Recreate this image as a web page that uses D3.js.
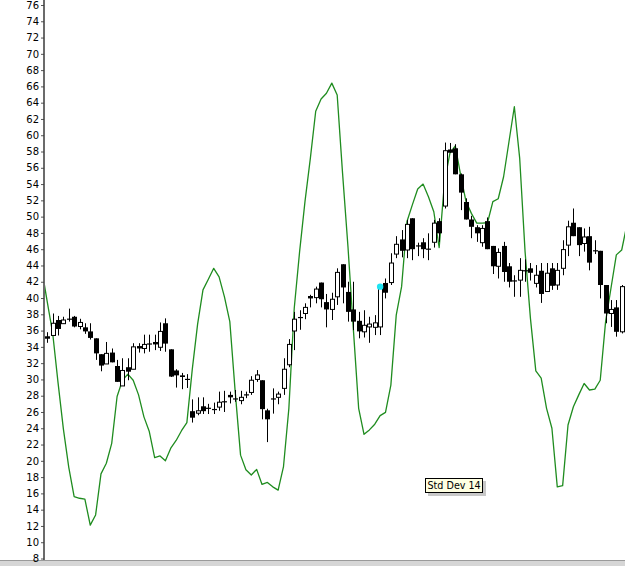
<!DOCTYPE html>
<html>
<head>
<meta charset="utf-8">
<script src="https://cdn.jsdelivr.net/npm/d3@7"></script>
<style>
  html, body { margin: 0; padding: 0; background: #fff; }
  svg { display: block; }
</style>
</head>
<body>
<svg id="chart" width="625" height="566"></svg>
<script>
// ---- data ----
const opens = [35.3,35.4,37.3,36.85,37.4,37.7,36.5,36.4,35.9,35.05,33.1,31.9,33.3,31.65,29.2,31.5,31.25,34.1,33.8,34.35,34.6,33.95,36.9,33.7,31.1,30.5,30.0,
  26.1,25.85,26.7,26.45,26.3,26.6,27.25,28.1,27.6,27.4,28.1,28.4,30.0,29.9,26.2,27.6,27.8,28.9,31.8,
  35.95,37.6,38.1,40.25,40.05,41.9,39.5,38.6,40.15,44.15,40.75,38.6,37.2,35.85,36.45,36.4,36.45,41.85,41.9,
  45.4,47.2,45.9,49.8,46.4,46.85,46.0,46.85,49.45,51.3,58.25,58.4,55.2,51.8,49.65,48.7,46.8,49.45,
  46.4,43.9,46.4,43.9,42.1,42.2,43.35,43.65,41.8,43.35,40.8,43.65,41.6,43.65,46.5,49.25,48.7,46.7,47.6,45.8,45.8,41.6,38.1,38.85,35.85];
const highs = [35.8,38.1,37.8,37.7,38.7,37.8,37.45,36.9,36.9,35.05,33.1,34.6,33.8,32.4,32.6,32.6,34.45,34.45,35.5,35.5,35.5,37.0,37.5,33.7,31.25,30.8,30.65,
  27.55,27.8,27.8,27.0,27.15,28.5,28.6,28.5,28.7,28.6,28.5,30.4,31.15,29.9,26.4,28.9,28.5,32.6,34.95,
  38.3,38.5,39.35,40.4,41.4,41.9,40.5,40.65,43.65,44.15,42.0,42.0,38.3,38.5,37.7,37.9,41.4,42.4,45.5,
  47.6,48.35,49.6,49.8,46.8,47.35,47.95,49.6,49.8,59.1,59.05,58.9,55.3,52.25,50.1,48.95,48.95,49.9,
  46.4,46.1,46.9,44.3,42.8,44.9,44.75,44.3,44.05,44.3,44.3,44.3,44.3,47.1,49.5,51.0,48.7,48.55,48.75,47.1,45.8,41.6,39.75,39.75,41.6];
const lows = [34.5,35.4,35.4,36.85,37.1,36.4,36.15,35.6,34.9,32.4,31.0,31.9,32.1,29.7,29.2,29.9,31.25,33.3,33.2,33.4,33.6,33.5,33.4,30.3,29.0,28.8,28.95,
  24.7,25.6,25.75,25.75,25.75,26.15,26.0,27.05,27.25,26.95,27.7,28.1,29.7,25.1,22.3,25.8,26.95,28.1,31.5,
  33.6,36.1,37.4,38.85,39.35,38.85,36.4,37.3,39.15,39.35,37.1,36.05,35.05,35.15,34.5,35.45,35.45,39.95,41.6,
  44.9,45.0,44.9,44.65,45.15,44.9,44.65,46.2,46.9,51.0,57.85,55.2,50.8,49.65,47.35,46.9,46.3,46.0,
  42.95,42.4,42.0,41.3,40.15,40.15,42.0,42.15,41.3,39.4,40.8,41.0,41.0,42.8,45.15,47.6,45.15,45.7,43.4,45.4,39.95,36.9,36.45,35.25,35.65];
const closes = [35.0,36.9,36.2,37.3,37.4,36.5,37.0,35.9,35.1,33.2,31.7,33.2,32.1,29.7,31.1,30.95,34.0,33.8,34.3,34.35,34.3,35.9,34.4,30.35,30.5,30.3,30.0,
  25.3,26.15,26.1,26.45,26.3,27.2,27.25,27.8,27.6,27.8,28.1,29.9,30.55,26.35,25.1,27.6,28.2,31.25,34.3,
  37.4,37.6,38.85,39.95,41.1,39.85,38.6,39.85,43.15,41.3,38.3,37.1,35.9,36.65,36.8,36.95,41.4,40.65,44.3,
  46.6,45.8,49.05,46.0,46.4,46.0,46.0,49.2,47.95,58.1,57.85,55.2,52.95,49.65,48.75,47.95,48.55,46.0,
  43.9,45.6,43.2,42.0,42.1,43.4,43.35,43.1,42.8,40.5,43.05,41.5,43.4,45.95,48.75,47.6,46.5,47.5,44.35,45.8,41.6,38.1,38.6,35.85,41.4];
// Std Dev 14 line, one value per bar, starting one bar before the first visible bar
const stdDevFirstIndex = -1;
const stdDev = [43.4,39.5,35.7,29.6,23.9,19.2,15.6,15.4,15.3,12.1,13.35,18.4,19.7,22.15,27.9,29.9,30.65,29.9,28.1,25.4,23.6,20.4,20.6,20.0,21.55,22.5,23.7,24.7,
  31.2,36.8,41.0,42.3,43.65,42.6,40.15,37.1,28.5,20.7,18.9,18.25,18.95,17.1,17.35,16.8,16.4,19.3,26.45,
  38.75,45.7,51.85,57.15,62.95,64.45,65.15,66.4,64.95,55.35,46.4,36.3,26.45,23.25,23.8,24.5,25.55,25.95,29.3,
  37.9,41.4,49.4,51.45,53.4,54.0,52.45,50.6,46.2,54.3,57.8,58.7,55.1,51.85,50.4,49.2,49.2,49.25,
  51.85,52.2,54.9,59.2,63.5,57.15,45.7,37.5,31.05,30.15,26.45,24.0,16.8,16.95,24.4,26.65,28.1,29.5,28.7,28.8,29.9,37.1,41.2,45.3,45.9,49.1];
const yTicks = d3.range(8, 77, 2);
const markerIndex = 62;      // cyan marker
const markerValue = 41.4;
const studyLabel = "Std Dev 14";

// ---- layout ----
const svg = d3.select("#chart");
const W = 625, H = 566;
const axisX = 44;
const x = d3.scaleLinear().domain([0, opens.length - 1]).range([47.3, 621.7]);
const y = d3.scaleLinear().domain([8, 76]).range([558.5, 5]);

svg.append("defs").append("clipPath").attr("id", "plotclip")
  .append("rect").attr("x", axisX + 1).attr("y", 0).attr("width", W - axisX - 1).attr("height", 560);

// bottom band
svg.append("rect").attr("x", 0).attr("y", 561).attr("width", W).attr("height", 5).attr("fill", "#d6d6d6");
svg.append("line").attr("x1", 0).attr("x2", W).attr("y1", 560.5).attr("y2", 560.5).attr("stroke", "#9a9a9a").attr("stroke-width", 1);

const plot = svg.append("g").attr("clip-path", "url(#plotclip)");

// std dev line
const line = d3.line()
  .x((d, i) => x(i + stdDevFirstIndex))
  .y(d => y(d));
plot.append("path").datum(stdDev)
  .attr("d", line)
  .attr("fill", "none")
  .attr("stroke", "#1f8c1f")
  .attr("stroke-width", 1.3)
  .attr("stroke-linejoin", "round");

// candles
const bars = d3.range(opens.length).map(i => ({ i, o: opens[i], h: highs[i], l: lows[i], c: closes[i] }));
const g = plot.append("g").selectAll("g").data(bars).join("g");
g.append("line")
  .attr("x1", d => Math.round(x(d.i)) + 0.5).attr("x2", d => Math.round(x(d.i)) + 0.5)
  .attr("y1", d => y(d.h)).attr("y2", d => y(d.l))
  .attr("stroke", "#000").attr("stroke-width", 1);
g.each(function(d) {
  const cx = Math.round(x(d.i)) + 0.5;
  const top = y(Math.max(d.o, d.c)), bot = y(Math.min(d.o, d.c));
  const sel = d3.select(this);
  if (Math.abs(bot - top) < 1.2) {
    sel.append("line").attr("x1", cx - 2.5).attr("x2", cx + 2.5)
      .attr("y1", (top + bot) / 2).attr("y2", (top + bot) / 2)
      .attr("stroke", "#000").attr("stroke-width", 1.2);
  } else if (d.c >= d.o) {
    sel.append("rect").attr("x", cx - 2).attr("y", top).attr("width", 4).attr("height", bot - top)
      .attr("fill", "#fff").attr("stroke", "#000").attr("stroke-width", 1);
  } else {
    sel.append("rect").attr("x", cx - 2.5).attr("y", top).attr("width", 5).attr("height", bot - top)
      .attr("fill", "#000");
  }
});

// cyan marker
plot.append("circle").attr("cx", x(markerIndex)).attr("cy", y(markerValue)).attr("r", 3.2).attr("fill", "#1ee4f2");

// y axis
const axis = d3.axisLeft(y).tickValues(yTicks).tickSize(3).tickSizeOuter(0).tickPadding(2).tickFormat(d3.format("d"));
const ag = svg.append("g").attr("transform", `translate(${axisX},0)`).call(axis);
ag.select(".domain").remove();
ag.selectAll(".tick line").attr("stroke", "#555");
ag.selectAll(".tick text").attr("fill", "#000").style("font-family", "'DejaVu Sans', Verdana, sans-serif").style("font-size", "10px");
svg.append("line").attr("x1", axisX).attr("x2", axisX).attr("y1", 0).attr("y2", 560)
  .attr("stroke", "#3a3a3a").attr("stroke-width", 1.5);

// study label
const lbl = svg.append("g").attr("transform", "translate(425,478)");
lbl.append("rect").attr("x", 3).attr("y", 3).attr("width", 58).attr("height", 15).attr("fill", "#b0b0b0").attr("opacity", 0.7);
lbl.append("rect").attr("x", 0.5).attr("y", 0.5).attr("width", 57).attr("height", 14).attr("fill", "#ffffe1").attr("stroke", "#000").attr("stroke-width", 1);
lbl.append("text").attr("x", 2.5).attr("y", 11).text(studyLabel)
  .style("font-family", "'DejaVu Sans', Verdana, sans-serif").style("font-size", "9.6px").attr("fill", "#000");
</script>
</body>
</html>
